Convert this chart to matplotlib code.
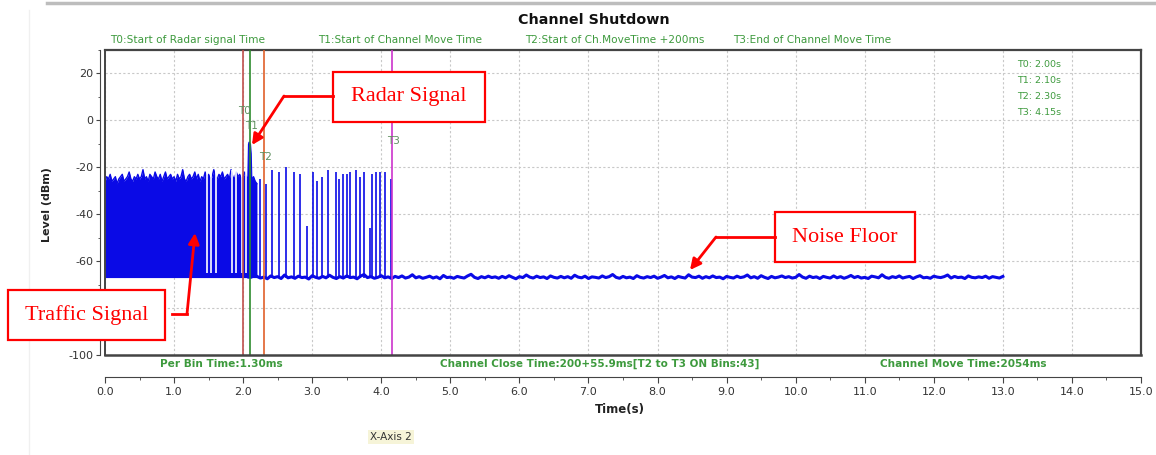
import numpy as np
import matplotlib
matplotlib.use("Agg")
import matplotlib.pyplot as plt
from matplotlib.patches import Rectangle, FancyArrowPatch
from matplotlib.lines import Line2D
from matplotlib.ticker import MultipleLocator

# ---------------- data ----------------
# dense traffic block: top envelope sampled every 0.025 s from 0.0 to 2.2 s
block_start = 0.0
block_step = 0.025
block_top = [-26, -24, -25, -23, -26, -25, -24, -27, -25, -24,
             -23, -26, -25, -24, -22, -25, -26, -24, -25, -23,
             -25, -24, -21, -25, -24, -26, -23, -24, -25, -22,
             -24, -25, -23, -26, -24, -22, -25, -24, -23, -25,
             -24, -26, -23, -25, -24, -21, -25, -26, -24, -23,
             -25, -24, -22, -25, -23, -26, -24, -25, -22, -24,
             -23, -25, -24, -21, -24, -25, -23, -24, -22, -25,
             -24, -23, -25, -21, -24, -25, -22, -24, -23, -25,
             -24, -22, -25, -24, -23, -25, -24, -26, -27]
floor_level = -67
# white gaps inside the traffic block (s)
gap_t = [1.48, 1.54, 1.61, 1.84, 1.90, 1.99, 2.04]

# radar burst
radar_t = [2.06, 2.07, 2.08, 2.09, 2.10, 2.11, 2.12]
radar_db = [-26, -10, -9, -9.5, -10, -14, -26]

# sporadic traffic bursts between T2 and T3
spike_t = [2.25, 2.33, 2.42, 2.52, 2.62, 2.73, 2.83, 2.92, 3.01, 3.07, 3.14, 3.23, 3.34,
           3.39, 3.44, 3.50, 3.55, 3.64, 3.69, 3.75, 3.84, 3.87, 3.93, 3.98, 4.05, 4.14]
spike_db = [-25, -27, -21, -22, -20, -22, -23, -45, -22, -26, -24, -21, -22,
            -25, -23, -23, -22, -21, -24, -22, -46, -23, -22, -22, -22, -25]

# noise floor sampled every 0.05 s from 2.2 s to 13.0 s
noise_start = 2.2
noise_step = 0.05
noise_db = [-66.5, -67.2, -66.8, -67.5, -66.3, -67.0, -66.6, -67.4, -65.9, -67.1,
            -66.7, -67.3, -66.4, -67.0, -66.8, -67.6, -66.2, -66.9, -67.3, -66.5,
            -67.1, -66.0, -66.9, -67.4, -66.6, -67.2, -66.3, -67.0, -66.8, -67.5,
            -66.4, -65.7, -67.0, -66.6, -67.3, -66.9, -66.2, -67.1, -66.7, -67.4,
            -66.5, -67.0, -66.3, -67.2, -66.8, -65.8, -67.1, -66.6, -67.3, -66.9,
            -66.4, -67.2, -66.7, -67.5, -66.1, -67.0, -66.8, -67.3, -66.5, -66.9,
            -67.2, -66.3, -65.6, -66.9, -67.4, -66.6, -67.1, -66.4, -67.0, -66.7,
            -67.3, -66.5, -67.1, -66.2, -66.9, -67.5, -66.6, -67.0, -65.9, -66.8,
            -67.2, -66.4, -67.0, -66.7, -67.4, -66.3, -66.9, -67.2, -66.5, -67.1,
            -66.6, -67.3, -66.0, -66.8, -67.1, -66.4, -67.4, -66.7, -66.9, -67.2,
            -66.3, -67.0, -66.6, -65.7, -66.9, -67.3, -66.5, -67.1, -66.8, -67.4,
            -66.2, -66.9, -67.2, -66.6, -67.0, -66.4, -67.3, -66.8, -66.1, -67.1,
            -66.7, -67.4, -66.5, -66.9, -67.2, -65.8, -66.8, -67.0, -66.4, -67.3,
            -66.6, -67.1, -66.3, -67.0, -66.8, -67.5, -66.5, -66.9, -67.2, -66.4,
            -67.0, -66.7, -65.9, -67.1, -66.6, -67.3, -66.2, -66.9, -67.4, -66.5,
            -67.1, -66.8, -66.3, -67.0, -66.6, -67.2, -66.9, -65.7, -66.8, -67.3,
            -66.4, -67.0, -66.7, -67.4, -66.5, -66.9, -67.2, -66.3, -67.1, -66.6,
            -67.3, -66.8, -66.1, -67.0, -66.5, -67.2, -66.9, -67.4, -66.4, -66.7,
            -67.1, -65.8, -66.9, -67.3, -66.6, -67.0, -66.3, -67.2, -66.8, -66.5,
            -67.4, -66.7, -66.2, -67.1, -66.9, -67.3, -66.4, -66.8, -67.0, -66.6,
            -65.9, -67.2, -66.5, -67.0, -66.8, -67.4, -66.3, -66.9, -67.1, -66.7,
            -67.0, -66.4, -67.3, -66.6, -66.9, -67.2, -66.5]

# markers
marker_names = ["T0", "T1", "T2", "T3"]
marker_t = [2.00, 2.10, 2.30, 4.15]
marker_label_y = [4, -2.5, -15.5, -9]
marker_desc = ["T0:Start of Radar signal Time", "T1:Start of Channel Move Time",
               "T2:Start of Ch.MoveTime +200ms", "T3:End of Channel Move Time"]
info_bottom = ["Per Bin Time:1.30ms",
               "Channel Close Time:200+55.9ms[T2 to T3 ON Bins:43]",
               "Channel Move Time:2054ms"]
x_ticks = [0.0, 1.0, 2.0, 3.0, 4.0, 5.0, 6.0, 7.0, 8.0, 9.0, 10.0, 11.0, 12.0, 13.0, 14.0, 15.0]
y_ticks = [-100, -80, -60, -40, -20, 0, 20]
y_ticklabels = ["-100", "", "-60", "-40", "-20", "0", "20"]  # -80 is hidden behind a callout

# ---------------- styling ----------------
W, H = 1156, 455
PT = 0.72  # points per pixel at 100 dpi
def fx(px):
    return px / W
def fy(py):
    return 1 - py / H

BLUE = "#0a0ae6"
GREEN = "#3d9a3d"
marker_colors = ["#c0504d", "#2e8b2e", "#e0602a", "#cc33cc"]

fig = plt.figure(figsize=(W / 100, H / 100), dpi=100)
fig.patch.set_facecolor("white")
ax = fig.add_axes([fx(105), fy(355), fx(1141) - fx(105), fy(50) - fy(355)])

ax.set_xlim(0, 15)
ax.set_ylim(-100, 30)

# grid
ax.xaxis.set_major_locator(MultipleLocator(1))
ax.xaxis.set_minor_locator(MultipleLocator(0.5))
ax.yaxis.set_major_locator(MultipleLocator(20))
ax.yaxis.set_minor_locator(MultipleLocator(10))
ax.grid(True, which="major", color="#c8c8c8", linestyle=(0, (2, 2)), linewidth=0.8)
ax.set_axisbelow(True)

# data
bt = block_start + block_step * np.arange(len(block_top))
ax.fill_between(bt, floor_level, block_top, color=BLUE, linewidth=0, zorder=2)
ax.plot(bt, block_top, color=BLUE, linewidth=1.0, zorder=2)
ax.vlines(gap_t, floor_level + 2, -21, color="white", linewidth=1.2, zorder=2.5)
ax.fill_between(radar_t, floor_level, radar_db, color=BLUE, linewidth=0.8, edgecolor=BLUE, zorder=2.6)
ax.vlines(spike_t, floor_level, spike_db, color=BLUE, linewidth=1.2, zorder=2)
nt = noise_start + noise_step * np.arange(len(noise_db))
ax.plot(nt, noise_db, color=BLUE, linewidth=2.2, zorder=2)

# marker lines
for name, t, ly, c in zip(marker_names, marker_t, marker_label_y, marker_colors):
    ax.axvline(t, color=c, linewidth=1.2, zorder=3)
    ax.text(t + 0.02, ly, name, color="#5f8f5f", fontsize=7.5, ha="center", va="center", zorder=4)

# marker summary
for i, (name, t) in enumerate(zip(marker_names, marker_t)):
    ax.text(13.2, 23.8 - i * 6.8, f"{name}: {t:.2f}s", color=GREEN, fontsize=6.8,
            ha="left", va="center", zorder=4)

# spines / axes
for s in ["top", "right"]:
    ax.spines[s].set_color("#444444")
    ax.spines[s].set_linewidth(1.6)
ax.spines["left"].set_position(("outward", 5 * PT))
ax.spines["bottom"].set_position(("outward", 22 * PT))
ax.spines["left"].set_color("#444444")
ax.spines["bottom"].set_color("#444444")
ax.axvline(0, color="#444444", linewidth=1.4, clip_on=False, zorder=5)
ax.axhline(-100, color="#444444", linewidth=1.8, clip_on=False, zorder=5)

ax.tick_params(axis="both", which="major", labelsize=8, colors="#444444", labelcolor="#333333")
ax.tick_params(axis="x", which="major", direction="out", length=6 * PT, pad=3)
ax.tick_params(axis="x", which="minor", direction="out", length=3 * PT, colors="#444444")
ax.tick_params(axis="y", which="major", direction="out", length=4 * PT, pad=2)
ax.tick_params(axis="y", which="minor", direction="out", length=2 * PT, colors="#444444")
ax.set_xticks(x_ticks)
ax.set_xticklabels([f"{v:.1f}" for v in x_ticks])
ax.set_yticks(y_ticks)
ax.set_yticklabels(y_ticklabels)

# titles and texts
fig.text(fx(594), fy(20), "Channel Shutdown", fontsize=10.3, fontweight="bold",
         ha="center", va="center", color="#111111")
for txt, px in zip(marker_desc, [110, 318, 525, 733]):
    fig.text(fx(px), fy(40), txt, fontsize=7.6, color=GREEN, ha="left", va="center")
for txt, px, fs in zip(info_bottom, [160, 440, 880], [7.6, 7.5, 7.6]):
    fig.text(fx(px), fy(364), txt, fontsize=fs, color=GREEN, fontweight="bold",
             ha="left", va="center")
fig.text(fx(47), fy(205), "Level (dBm)", rotation=90, fontsize=8, fontweight="bold",
         ha="center", va="center", color="#222222")
fig.text(fx(620), fy(410), "Time(s)", fontsize=8.5, fontweight="bold",
         ha="center", va="center", color="#222222")
fig.text(fx(391), fy(437), "X-Axis 2", fontsize=7.5, ha="center", va="center", color="#333333",
         bbox=dict(boxstyle="square,pad=0.2", fc="#f6f4d8", ec="none"))

# screenshot frame lines
fig.add_artist(Line2D([fx(47), fx(1156)], [fy(3), fy(3)], transform=fig.transFigure,
                      color="#bdbdbd", linewidth=2.5))
fig.add_artist(Line2D([fx(29), fx(29)], [fy(10), fy(455)], transform=fig.transFigure,
                      color="#f0f0f0", linewidth=1.0))

# annotation boxes
def callout(x0, y0, x1, y1, text):
    fig.add_artist(Rectangle((fx(x0), fy(y1)), fx(x1) - fx(x0), fy(y0) - fy(y1),
                             transform=fig.transFigure, fc="white", ec="red", lw=1.6, zorder=10))
    fig.text(fx((x0 + x1) / 2), fy((y0 + y1) / 2), text, fontsize=16, color="red",
             family="Liberation Serif", ha="center", va="center", zorder=11)

def pointer(p0, p1, tip):
    fig.add_artist(Line2D([fx(p0[0]), fx(p1[0])], [fy(p0[1]), fy(p1[1])],
                          transform=fig.transFigure, color="red", lw=2, zorder=10))
    fig.add_artist(FancyArrowPatch((fx(p1[0]), fy(p1[1])), (fx(tip[0]), fy(tip[1])),
                                   transform=fig.transFigure, arrowstyle="-|>",
                                   mutation_scale=16, color="red", lw=2,
                                   shrinkA=0, shrinkB=0, zorder=10))

callout(333, 72, 485, 122, "Radar Signal")
pointer((333, 96), (284, 96), (252, 145))
callout(8, 290, 165, 340, "Traffic Signal")
pointer((172, 314), (187, 314), (195, 233))
callout(775, 212, 915, 262, "Noise Floor")
pointer((775, 237), (716, 237), (690, 270))

fig.savefig("out.png", dpi=100)
